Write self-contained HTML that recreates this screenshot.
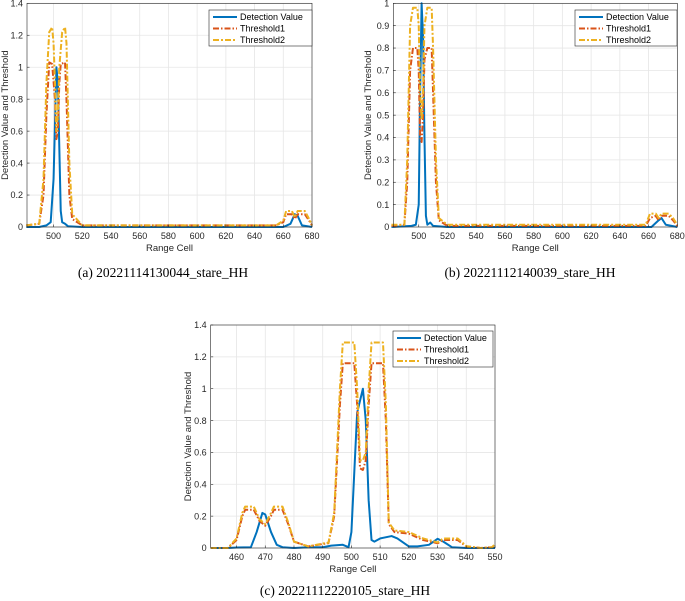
<!DOCTYPE html>
<html><head><meta charset="utf-8"><style>
body{margin:0;background:#fff;}
svg{display:block;font-family:"Liberation Sans",sans-serif;}
</style></head><body>
<svg id="fig" width="685" height="601" xmlns="http://www.w3.org/2000/svg"></svg>
<script>
// ---- Chart (a) data ----
const aDetX=[481,490,495,498,500,502,503,504,505,506,508,510,520,660,665,668,670,673,680];
const aDetY=[0,0,0.01,0.03,0.3,1.0,0.9,0.5,0.1,0.03,0.02,0.005,0,0,0.02,0.08,0.07,0.01,0];
const aT1X=[481,490,493,495,497,499,501,502,503,504,505,508,509,511,513,520,655,660,662,666,668,670,675,678,680];
const aT1Y=[0.01,0.02,0.2,0.7,1.03,1.02,0.8,0.55,0.6,0.9,1.02,1.03,0.8,0.2,0.05,0.01,0.01,0.03,0.08,0.08,0.05,0.08,0.08,0.04,0.01];
const aT2X=[481,490,493,495,497,499,500,501,502,503,504,506,508,509,511,513,520,655,660,662,666,668,670,675,678,680];
const aT2Y=[0.01,0.02,0.3,0.9,1.22,1.25,1.15,0.9,0.6,0.7,1.0,1.22,1.25,1.15,0.4,0.08,0.01,0.01,0.04,0.1,0.1,0.06,0.1,0.1,0.05,0.01];
// ---- Chart (b) data ----
const bDetX=[481,495,498,500,501,502,503,504,505,506,508,510,520,662,667,669,672,680];
const bDetY=[0,0.005,0.01,0.1,0.6,1.0,0.85,0.4,0.05,0.01,0.02,0.005,0,0,0.03,0.04,0.01,0];
const bT1X=[481,490,492,494,496,499,500,501,502,503,504,506,509,510,512,514,520,658,661,665,667,669,674,677,680];
const bT1Y=[0.005,0.01,0.2,0.7,0.8,0.8,0.7,0.4,0.38,0.5,0.75,0.8,0.8,0.6,0.2,0.03,0.005,0.005,0.04,0.05,0.03,0.05,0.05,0.03,0.005];
const bT2X=[481,490,492,494,496,499,500,501,502,503,504,506,509,510,512,514,520,658,661,665,667,669,674,677,680];
const bT2Y=[0.01,0.01,0.3,0.9,0.98,0.98,0.9,0.6,0.48,0.6,0.9,0.98,0.98,0.8,0.3,0.04,0.01,0.01,0.06,0.06,0.04,0.06,0.06,0.04,0.01];
// ---- Chart (c) data ----
const cDetX=[451,457,460,465,467,469,470,472,474,476,480,485,490,493,497,499,500,502,504,505,506,507,508,510,514,516,520,523,527,530,532,535,540,550];
const cDetY=[0,0,0.003,0.005,0.1,0.22,0.21,0.1,0.02,0.005,0,0.005,0.005,0.015,0.02,0.005,0.1,0.85,1.0,0.8,0.3,0.05,0.04,0.06,0.075,0.06,0.01,0.01,0.02,0.058,0.04,0.005,0,0];
const cT1X=[451,457,460,462,463,466,468,470,472,473,476,478,480,485,490,492,494,496,497,501,502,503,504,505,506,507,511,512,513,515,520,525,530,532,537,540,545,549,550];
const cT1Y=[0,0,0.05,0.2,0.24,0.24,0.17,0.14,0.2,0.24,0.24,0.15,0.04,0.01,0.025,0.03,0.2,0.9,1.16,1.16,0.9,0.5,0.49,0.55,0.9,1.16,1.16,0.8,0.15,0.1,0.09,0.05,0.03,0.05,0.05,0.01,0,0.005,0.02];
const cT2Y=[0,0,0.06,0.22,0.26,0.26,0.18,0.15,0.22,0.26,0.26,0.16,0.04,0.01,0.028,0.033,0.22,1.0,1.29,1.29,1.0,0.55,0.55,0.6,1.0,1.29,1.29,0.9,0.16,0.11,0.1,0.06,0.035,0.06,0.06,0.012,0,0.005,0.025];
// tick labels
const aXTicks=[500,520,540,560,580,600,620,640,660,680];
const aYTicks=[0,0.2,0.4,0.6,0.8,1,1.2,1.4];
const bYTicks=[0,0.1,0.2,0.3,0.4,0.5,0.6,0.7,0.8,0.9,1];
const cXTicks=[460,470,480,490,500,510,520,530,540,550];

const NS="http://www.w3.org/2000/svg";
const fig=document.getElementById('fig');
function mk(tag,attrs,parent){const e=document.createElementNS(NS,tag);for(const k in attrs)e.setAttribute(k,attrs[k]);(parent||fig).appendChild(e);return e;}

function chart(id,box,xd,yd,xt,yt,series,leg,caption,capPos){
  const g=mk('g',{});
  
  
  const sx=v=>box.l+(v-xd[0])/(xd[1]-xd[0])*(box.r-box.l);
  const sy=v=>box.b-(v-yd[0])/(yd[1]-yd[0])*(box.b-box.t);
  xt.forEach(v=>{const l=mk('line',{x1:sx(v),x2:sx(v),y1:box.t,y2:box.b,stroke:'#e6e6e6','stroke-width':0.8},g);
    });
  yt.forEach(v=>{const l=mk('line',{x1:box.l,x2:box.r,y1:sy(v),y2:sy(v),stroke:'#e6e6e6','stroke-width':0.8},g);
    });
  series.forEach(s=>{
    const d=s.x.map((x,i)=>(i?'L':'M')+sx(x).toFixed(2)+','+sy(s.y[i]).toFixed(2)).join('');
    const p=mk('path',{d:d,fill:'none',stroke:s.c,'stroke-width':2,'stroke-dasharray':s.dash||'none','stroke-linejoin':'round'},g);
    
    
  });
  const r=mk('rect',{x:box.l,y:box.t,width:box.r-box.l,height:box.b-box.t,fill:'none',stroke:'#262626','stroke-width':0.6},g);
  
  xt.forEach(v=>{
    mk('line',{x1:sx(v),x2:sx(v),y1:box.b,y2:box.b-2.5,stroke:'#262626','stroke-width':0.6},g);
    const t=mk('text',{x:sx(v),y:box.b+12,'font-size':9,fill:'#262626','text-anchor':'middle'},g);
    t.textContent=v;
    
  });
  yt.forEach(v=>{
    mk('line',{x1:box.l,x2:box.l+2.5,y1:sy(v),y2:sy(v),stroke:'#262626','stroke-width':0.6},g);
    const t=mk('text',{x:box.l-4,y:sy(v)+3.2,'font-size':9,fill:'#262626','text-anchor':'end'},g);
    t.textContent=String(v);
    
  });
  const xl=mk('text',{x:(box.l+box.r)/2,y:box.b+24,'font-size':9.5,fill:'#262626','text-anchor':'middle'},g);
  xl.textContent='Range Cell';
  
  const yx=box.ylx, yy=(box.t+box.b)/2;
  const yl=mk('text',{x:yx,y:yy,'font-size':9.5,fill:'#262626','text-anchor':'middle',transform:`rotate(-90 ${yx} ${yy})`},g);
  yl.textContent='Detection Value and Threshold';
  
  const lg=mk('g',{},g);
  
  mk('rect',{x:leg.x,y:leg.y,width:leg.w,height:36,fill:'#fff',stroke:'#262626','stroke-width':0.6},lg);
  series.forEach((s,i)=>{
    const yy2=leg.y+7+i*11.5;
    mk('line',{x1:leg.x+4,x2:leg.x+28,y1:yy2,y2:yy2,stroke:s.c,'stroke-width':2,'stroke-dasharray':s.dash||'none'},lg);
    const t=mk('text',{x:leg.x+31,y:yy2+3,'font-size':9,fill:'#000'},lg);
    t.textContent=s.label;
    
  });
  const c=mk('text',{x:capPos[0],y:capPos[1],'font-size':13.5,fill:'#000','text-anchor':'middle','font-family':'"Liberation Serif",serif'},g);
  c.textContent=caption;
  
}
const B='#0072BD',O='#D95319',Y='#EDB120';
chart('chart-a',{l:27,r:312,t:3.3,b:227,ylx:8},[481.5,680],[0,1.4],aXTicks,aYTicks,[
 {name:'detection-value-line',label:'Detection Value',x:aDetX,y:aDetY,c:B},
 {name:'threshold1-line',label:'Threshold1',x:aT1X,y:aT1Y,c:O,dash:'6 2 1.5 2'},
 {name:'threshold2-line',label:'Threshold2',x:aT2X,y:aT2Y,c:Y,dash:'6 2 2 2'}],
 {x:209,y:10,w:103},'(a) 20221114130044_stare_HH',[163,277]);
chart('chart-b',{l:393.3,r:677.3,t:3.3,b:227,ylx:371},[482.3,680],[0,1],aXTicks,bYTicks,[
 {name:'detection-value-line',label:'Detection Value',x:bDetX,y:bDetY,c:B},
 {name:'threshold1-line',label:'Threshold1',x:bT1X,y:bT1Y,c:O,dash:'6 2 1.5 2'},
 {name:'threshold2-line',label:'Threshold2',x:bT2X,y:bT2Y,c:Y,dash:'6 2 2 2'}],
 {x:575,y:10,w:102},'(b) 20221112140039_stare_HH',[530,277]);
chart('chart-c',{l:210.7,r:495,t:325,b:548,ylx:191},[451,550],[0,1.4],cXTicks,aYTicks,[
 {name:'detection-value-line',label:'Detection Value',x:cDetX,y:cDetY,c:B},
 {name:'threshold1-line',label:'Threshold1',x:cT1X,y:cT1Y,c:O,dash:'6 2 1.5 2'},
 {name:'threshold2-line',label:'Threshold2',x:cT1X,y:cT2Y,c:Y,dash:'6 2 2 2'}],
 {x:393,y:331,w:100},'(c) 20221112220105_stare_HH',[345,595]);
</script>
</body></html>
